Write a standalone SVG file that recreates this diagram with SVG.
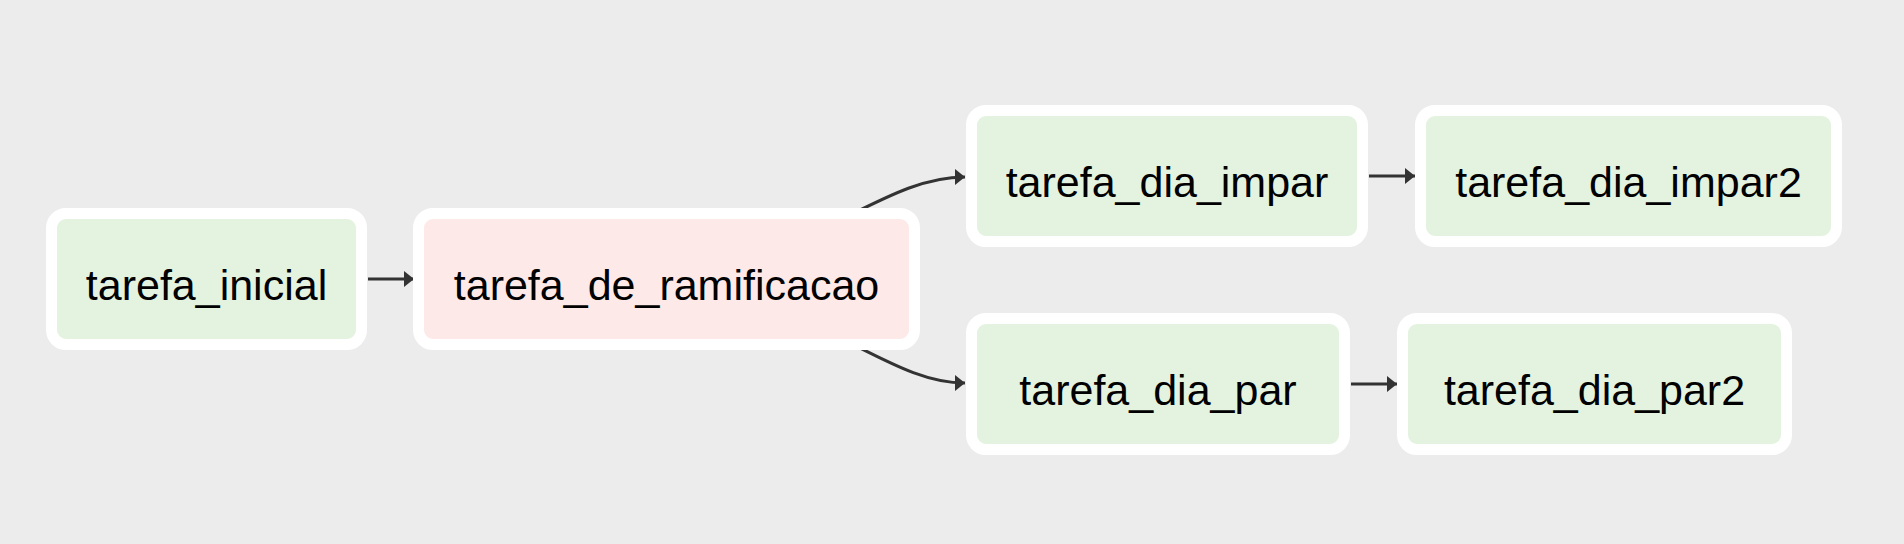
<svg xmlns="http://www.w3.org/2000/svg" width="1904" height="544" viewBox="0 0 1904 544">
<style>
.node rect{stroke:#ffffff;stroke-width:11}
.ok rect{fill:#e3f3e0}
.branch rect{fill:#fde9e7}
.node text{font-family:"Liberation Sans",Arial,Helvetica,sans-serif;font-size:43px;fill:#000000;text-anchor:middle}
.edge{fill:none;stroke:#333333;stroke-width:3}
</style>
<defs>
<marker id="arr" markerUnits="userSpaceOnUse" markerWidth="12" markerHeight="18" refX="10" refY="8" orient="auto">
<path d="M0,0 L10,8 L0,16 Z" fill="#333333"/>
</marker>
</defs>
<rect x="0" y="0" width="1904" height="544" fill="#ececec"/>
<g id="connectors">
<path class="edge" d="M368,279 L414,279" marker-end="url(#arr)"/>
<path class="edge" d="M848,216 C892,194 926,177 965,177" marker-end="url(#arr)"/>
<path class="edge" d="M848,342 C892,364 926,383 965,383" marker-end="url(#arr)"/>
<path class="edge" d="M1369,176 L1415,176" marker-end="url(#arr)"/>
<path class="edge" d="M1351,384 L1397,384" marker-end="url(#arr)"/>
</g>
<g id="tarefa_inicial" class="node ok">
<rect x="51.5" y="213.5" width="310" height="131" rx="14.5"/>
<text x="206.5" y="300">tarefa_inicial</text>
</g>
<g id="tarefa_de_ramificacao" class="node branch">
<rect x="418.5" y="213.5" width="496" height="131" rx="14.5"/>
<text x="666.5" y="300">tarefa_de_ramificacao</text>
</g>
<g id="tarefa_dia_impar" class="node ok">
<rect x="971.5" y="110.5" width="391" height="131" rx="14.5"/>
<text x="1167" y="197">tarefa_dia_impar</text>
</g>
<g id="tarefa_dia_impar2" class="node ok">
<rect x="1420.5" y="110.5" width="416" height="131" rx="14.5"/>
<text x="1628.5" y="197">tarefa_dia_impar2</text>
</g>
<g id="tarefa_dia_par" class="node ok">
<rect x="971.5" y="318.5" width="373" height="131" rx="14.5"/>
<text x="1158" y="405">tarefa_dia_par</text>
</g>
<g id="tarefa_dia_par2" class="node ok">
<rect x="1402.5" y="318.5" width="384" height="131" rx="14.5"/>
<text x="1594.5" y="405">tarefa_dia_par2</text>
</g>
</svg>
